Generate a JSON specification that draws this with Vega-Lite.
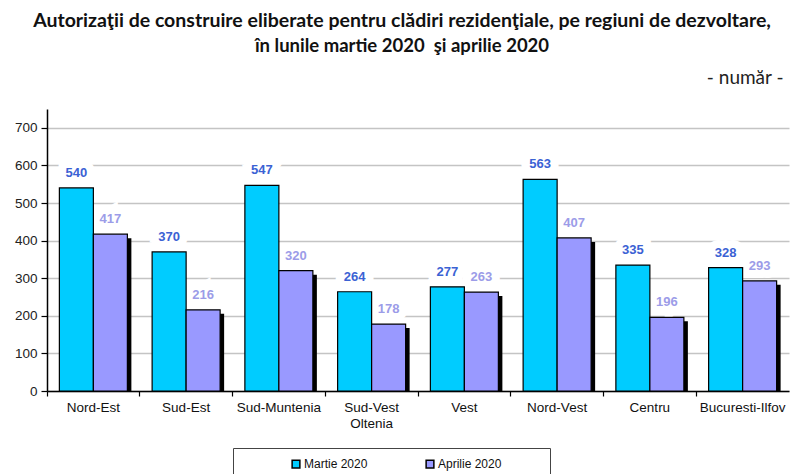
{
  "$schema": "https://vega.github.io/schema/vega-lite/v6.json",
  "width": 742,
  "height": 282,
  "autosize": {"type": "none"},
  "padding": {"left": 47, "top": 109, "right": 4, "bottom": 83},
  "background": "white",
  "config": {"view": {"stroke": null}},
  "title": {
    "text": "Autorizaţii de construire eliberate pentru clădiri rezidenţiale, pe regiuni de dezvoltare,",
    "subtitle": "în lunile martie 2020 \u00a0şi aprilie 2020",
    "anchor": "middle",
    "frame": "group",
    "font": "Lato",
    "fontSize": 19.5,
    "fontWeight": "bold",
    "color": "#111",
    "subtitleFont": "Lato",
    "subtitleFontSize": 18.5,
    "subtitleFontWeight": "bold",
    "subtitleColor": "#111",
    "subtitlePadding": 5,
    "offset": 0,
    "dy": 30,
    "dx": -16
  },
  "data": {
    "values": [
      {"region": "Nord-Est", "serie": "Martie 2020", "value": 540},
      {"region": "Nord-Est", "serie": "Aprilie 2020", "value": 417},
      {"region": "Sud-Est", "serie": "Martie 2020", "value": 370},
      {"region": "Sud-Est", "serie": "Aprilie 2020", "value": 216},
      {"region": "Sud-Muntenia", "serie": "Martie 2020", "value": 547},
      {"region": "Sud-Muntenia", "serie": "Aprilie 2020", "value": 320},
      {"region": "Sud-Vest Oltenia", "serie": "Martie 2020", "value": 264},
      {"region": "Sud-Vest Oltenia", "serie": "Aprilie 2020", "value": 178},
      {"region": "Vest", "serie": "Martie 2020", "value": 277},
      {"region": "Vest", "serie": "Aprilie 2020", "value": 263},
      {"region": "Nord-Vest", "serie": "Martie 2020", "value": 563},
      {"region": "Nord-Vest", "serie": "Aprilie 2020", "value": 407},
      {"region": "Centru", "serie": "Martie 2020", "value": 335},
      {"region": "Centru", "serie": "Aprilie 2020", "value": 196},
      {"region": "Bucuresti-Ilfov", "serie": "Martie 2020", "value": 328},
      {"region": "Bucuresti-Ilfov", "serie": "Aprilie 2020", "value": 293}
    ]
  },
  "resolve": {"axis": {"x": "independent", "y": "independent"}},
  "layer": [
    {
      "encoding": {
        "x": {
          "field": "region", "type": "nominal", "sort": null,
          "scale": {"paddingInner": 0, "paddingOuter": 0},
          "axis": {
            "orient": "bottom",
            "title": null, "ticks": false, "grid": false,
            "domainColor": "#000", "domainWidth": 1.5,
            "labelAngle": 0, "labelFont": "Liberation Sans", "labelFontSize": 13.5,
            "labelColor": "#111", "labelPadding": 9, "labelLineHeight": 16,
            "labelExpr": "datum.label == 'Sud-Vest Oltenia' ? ['Sud-Vest', 'Oltenia'] : datum.label"
          }
        },
        "y": {
          "field": "value", "type": "quantitative",
          "scale": {"domain": [0, 750], "nice": false},
          "axis": {
            "orient": "left",
            "title": null, "values": [0, 100, 200, 300, 400, 500, 600, 700],
            "grid": true, "gridColor": "#c4c4c4", "gridWidth": 1.5,
            "domainColor": "#000", "domainWidth": 1.5,
            "tickColor": "#000", "tickSize": 6, "tickWidth": 1.2,
            "labelFont": "Liberation Sans", "labelFontSize": 13.5, "labelColor": "#222",
            "labelPadding": 4
          }
        }
      },
      "layer": [
        {
          "transform": [{"filter": "datum.serie == 'Martie 2020'"}],
          "mark": {"type": "text", "xOffset": -17, "dy": -15, "font": "Liberation Sans", "fontSize": 13, "fontWeight": "bold", "stroke": "white", "strokeWidth": 16, "strokeJoin": "miter", "fill": "white"},
          "encoding": {"text": {"field": "value", "type": "quantitative"}}
        },
        {
          "transform": [{"filter": "datum.serie == 'Aprilie 2020'"}],
          "mark": {"type": "text", "xOffset": 17, "dy": -15, "font": "Liberation Sans", "fontSize": 13, "fontWeight": "bold", "stroke": "white", "strokeWidth": 16, "strokeJoin": "miter", "fill": "white"},
          "encoding": {"text": {"field": "value", "type": "quantitative"}}
        },
        {
          "transform": [{"filter": "datum.serie == 'Aprilie 2020'"}],
          "mark": {"type": "bar", "xOffset": 21, "yOffset": 4, "width": 34, "color": "#000", "clip": true}
        },
        {
          "transform": [{"filter": "datum.serie == 'Martie 2020'"}],
          "mark": {"type": "bar", "xOffset": -17, "width": 34, "stroke": "#000", "strokeWidth": 1.2, "fillOpacity": 1},
          "encoding": {
            "color": {
              "field": "serie", "type": "nominal",
              "scale": {"domain": ["Martie 2020", "Aprilie 2020"], "range": ["#00ccff", "#9999ff"]},
              "legend": {
                "title": " ", "titleOrient": "right", "titlePadding": 39,
                "orient": "none", "legendX": 186, "legendY": 339,
                "direction": "horizontal", "columns": 2, "columnPadding": 9,
                "strokeColor": "#444", "padding": 10,
                "symbolType": "square", "symbolSize": 60, "symbolStrokeColor": "#333", "symbolStrokeWidth": 1.5,
                "symbolOffset": 47, "labelOffset": 2,
                "labelFont": "Liberation Sans", "labelFontSize": 12, "labelColor": "#111"
              }
            }
          }
        },
        {
          "transform": [{"filter": "datum.serie == 'Aprilie 2020'"}],
          "mark": {"type": "bar", "xOffset": 17, "width": 34, "stroke": "#000", "strokeWidth": 1.2, "fillOpacity": 1},
          "encoding": {
            "color": {"field": "serie", "type": "nominal"}
          }
        },
        {
          "transform": [{"filter": "datum.serie == 'Martie 2020'"}],
          "mark": {"type": "text", "xOffset": -17, "dy": -15, "font": "Liberation Sans", "fontSize": 13, "fontWeight": "bold", "color": "#3b62d4"},
          "encoding": {"text": {"field": "value", "type": "quantitative"}}
        },
        {
          "transform": [{"filter": "datum.serie == 'Aprilie 2020'"}],
          "mark": {"type": "text", "xOffset": 17, "dy": -15, "font": "Liberation Sans", "fontSize": 13, "fontWeight": "bold", "color": "#9c9ce8"},
          "encoding": {"text": {"field": "value", "type": "quantitative"}}
        }
      ]
    },
    {
      "mark": {"type": "bar", "opacity": 0, "width": 1},
      "encoding": {
        "x": {
          "field": "region", "type": "nominal", "sort": null,
          "axis": {
            "orient": "bottom",
            "title": null, "labels": false, "domain": false, "grid": false,
            "ticks": true, "bandPosition": 0, "tickColor": "#000", "tickSize": 5, "tickWidth": 1.2
          }
        },
        "y": {
          "field": "value", "type": "quantitative",
          "axis": {
            "orient": "right", "labels": false, "ticks": false, "domain": false, "grid": false,
            "title": "- număr -", "titleAngle": 0, "titleAlign": "right", "titleBaseline": "middle",
            "titleX": -6, "titleY": -32, "titleFont": "Lato", "titleFontSize": 19, "titleFontWeight": "normal", "titleColor": "#222"
          }
        }
      }
    }
  ]
}
